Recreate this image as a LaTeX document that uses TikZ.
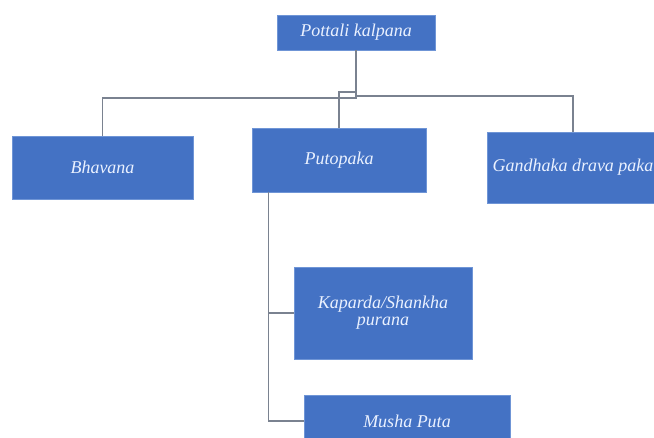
\documentclass[tikz,border=0pt]{standalone}
\usepackage{fontspec}
\usetikzlibrary{calc}
\setmainfont{Liberation Serif}
\definecolor{boxblue}{HTML}{4472C4}
\definecolor{boxedge}{HTML}{6F95D6}
\definecolor{txt}{HTML}{EAF1FF}
\definecolor{wire}{HTML}{7A8290}
\begin{document}
\begin{tikzpicture}[x=1pt,y=-1pt,
  box/.style={rectangle,fill=boxblue,draw=boxedge,line width=0.8pt,text=txt,
    font=\fontsize{18}{17}\selectfont\itshape,align=center,inner sep=0pt},
  wire/.style={draw=wire,line width=1.1pt}]
\clip (0,0) rectangle (654,437);
\fill[white] (0,0) rectangle (654,437);
\node[box,minimum width=158pt,minimum height=35pt] (top) at (356,32.5) {Pottali kalpana};
\node[box,minimum width=181pt,minimum height=63pt] (bha) at (102.5,167.5) {Bhavana};
\node[box,minimum width=174pt,minimum height=64pt] (put) at (339,160) {Putopaka};
\node[box,minimum width=172pt,minimum height=71pt] (gan) at (573,167.5) {Gandhaka drava paka};
\node[box,minimum width=178pt,minimum height=92pt] (kap) at (383,313) {Kaparda/Shankha\\purana};
\node[box,minimum width=206pt,minimum height=52pt] (mus) at (407,421) {Musha Puta};
\coordinate (pl) at ($(put.south west)+(17,0)$);
\path[wire] (top.south) -- (356,98) -| (bha.north);
\path[wire] (top.south) -- (356,96) -| (gan.north);
\path[wire] (top.south) -- (356,92) -| (put.north);
\path[wire] (pl) |- (kap.west);
\path[wire] (pl) |- (mus.west);
\end{tikzpicture}
\end{document}
